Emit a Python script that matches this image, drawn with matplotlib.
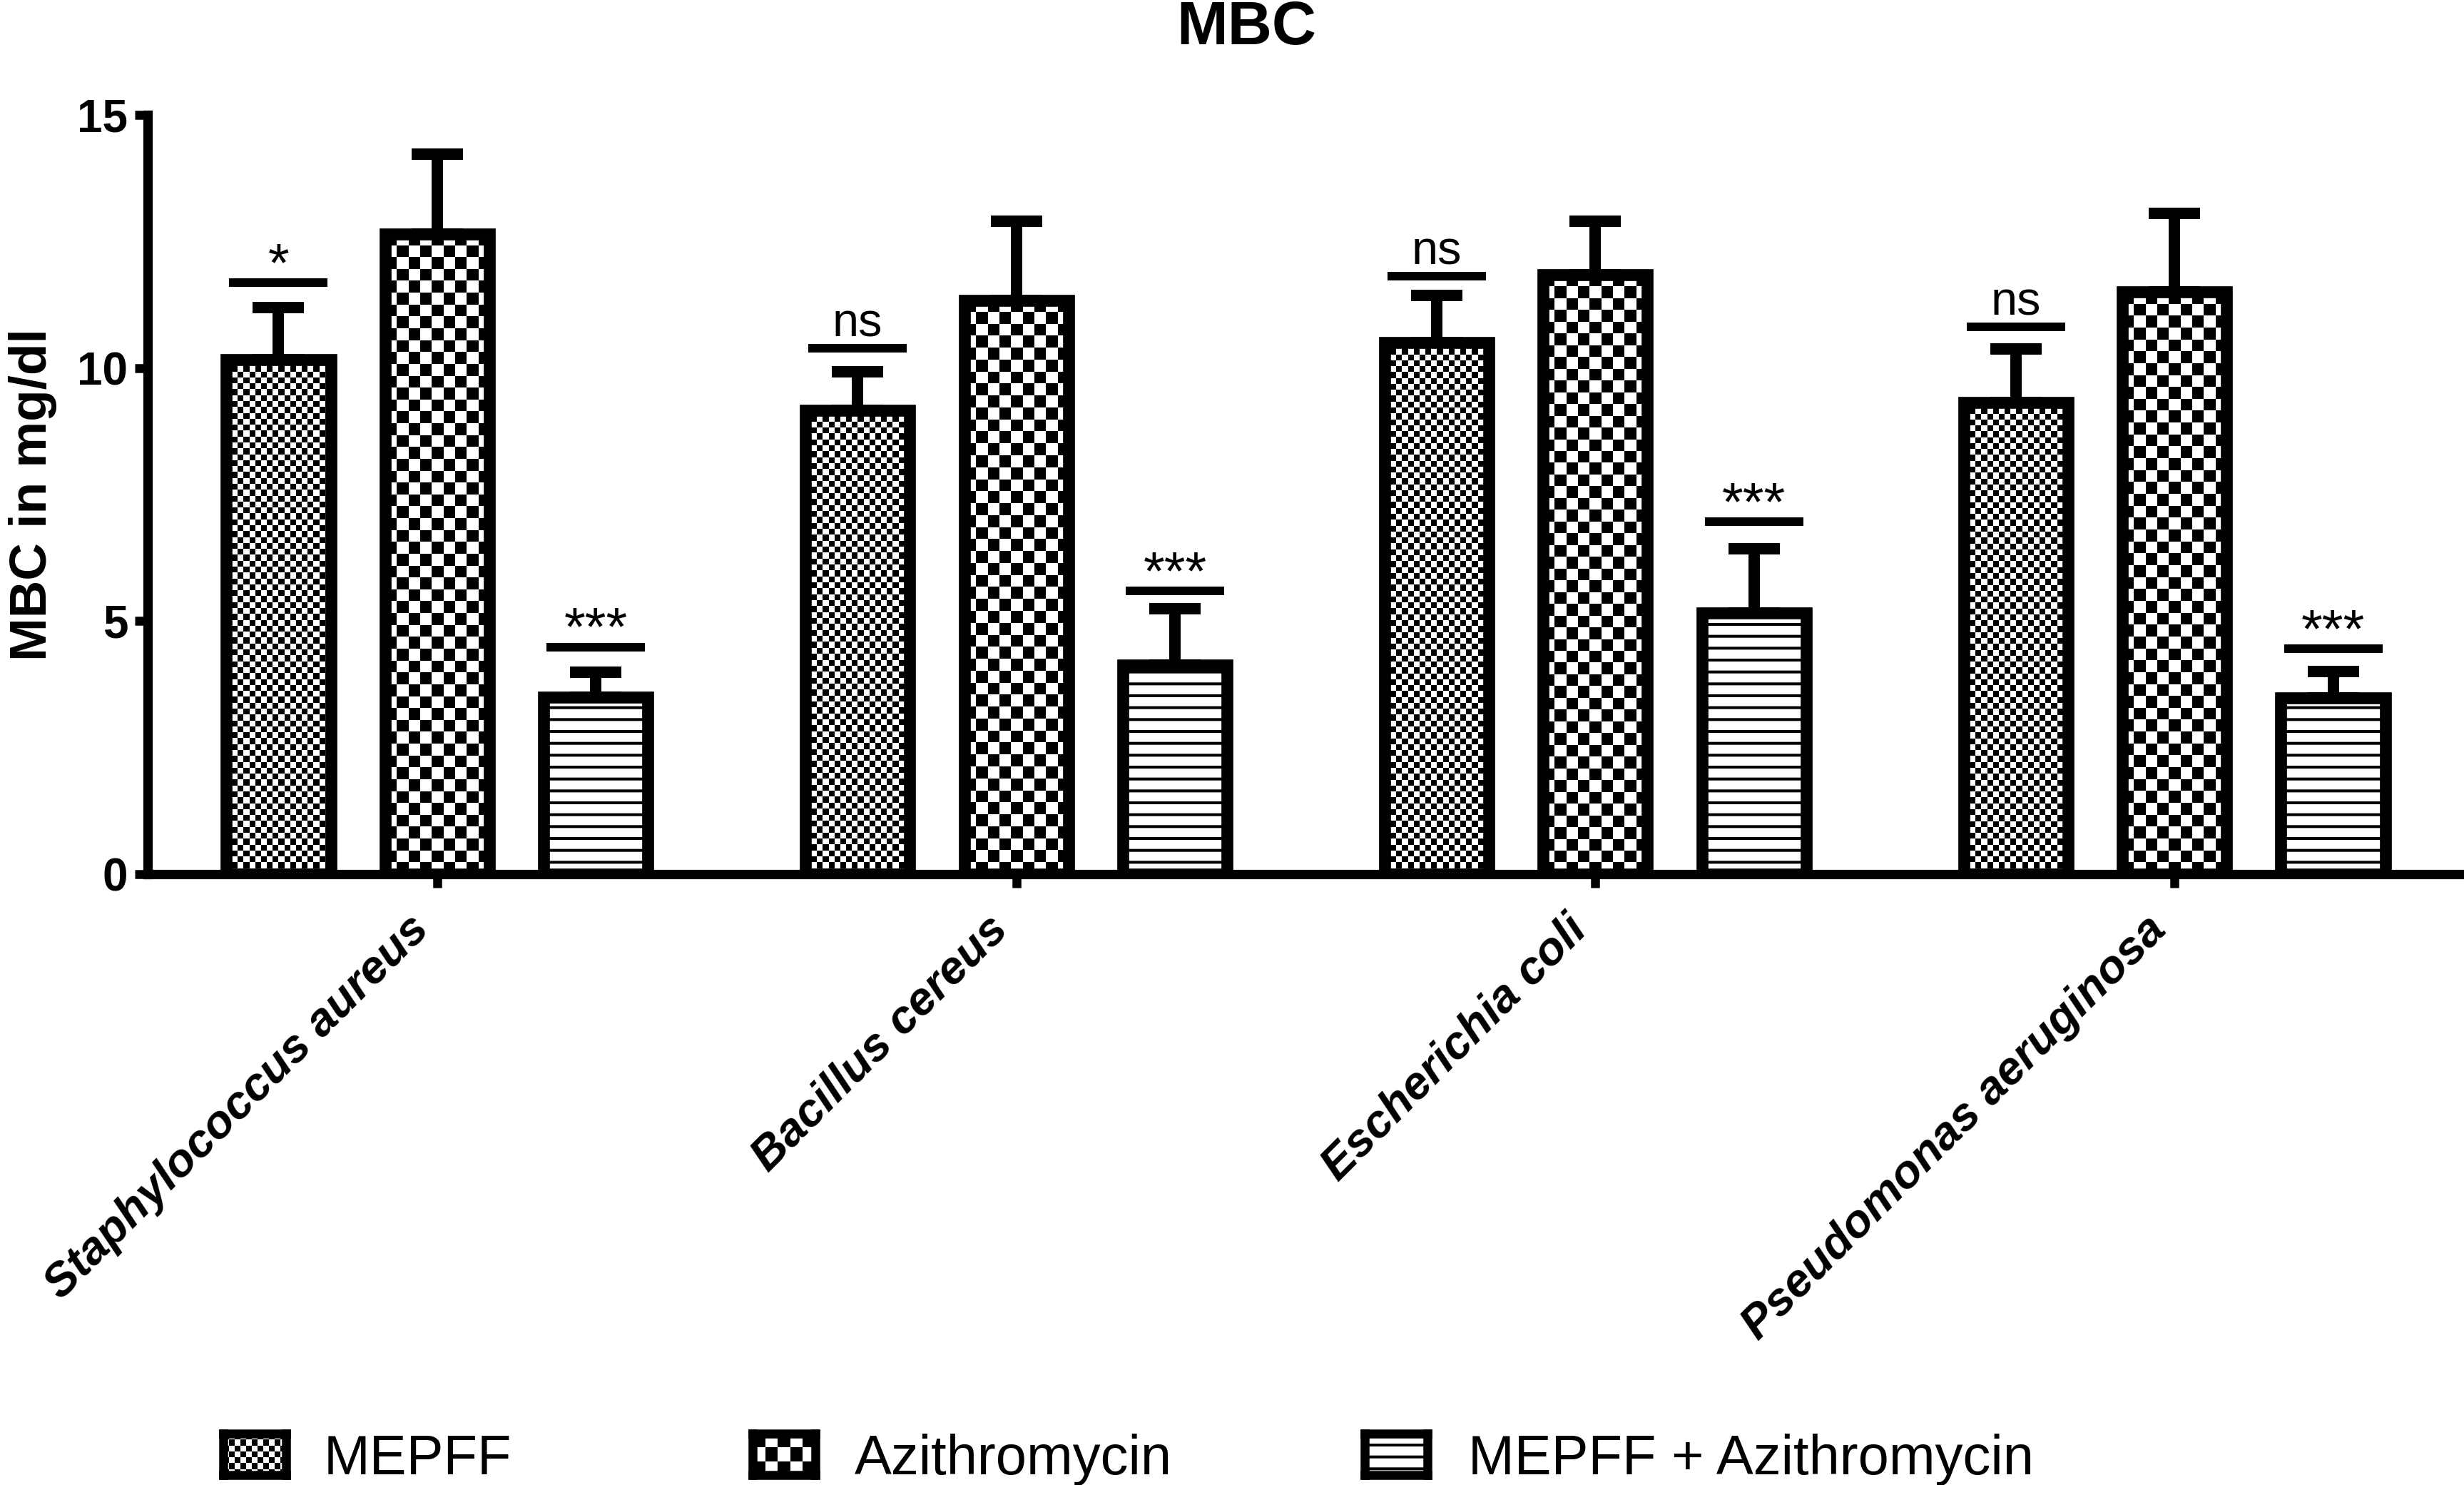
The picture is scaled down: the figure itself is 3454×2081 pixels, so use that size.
import numpy as np
import matplotlib.pyplot as plt

plt.rcParams['font.family'] = ['Liberation Sans', 'DejaVu Sans']
plt.rcParams['hatch.linewidth'] = 2.9

# Данные
organisms = ['Staphylococcus aureus', 'Bacillus cereus', 'Escherichia coli', 'Pseudomonas aeruginosa']
series = ['MEPFF', 'Azithromycin', 'MEPFF + Azithromycin']

mepff = [10.16, 9.17, 10.5, 9.32]
mepff_err = [1.03, 0.76, 0.94, 1.06]
azith = [12.65, 11.34, 11.84, 11.5]
azith_err = [1.58, 1.56, 1.06, 1.55]
combo = [3.49, 4.13, 5.16, 3.48]
combo_err = [0.5, 1.12, 1.27, 0.52]

mepff_sig = ['*', 'ns', 'ns', 'ns']
mepff_sig_y = [11.69, 10.39, 11.81, 10.81]
combo_sig = ['***', '***', '***', '***']
combo_sig_y = [4.49, 5.6, 6.96, 4.45]

W, H = 3454, 2081
fig = plt.figure(figsize=(W / 100, H / 100), dpi=100)
ax = fig.add_axes([207 / W, 1 - 1225 / H, 1 - 207 / W, (1225 - 161) / H])
ax.set_xlim(-0.5, 3.5)
ax.set_ylim(0, 15)

x = np.arange(len(organisms))
width = 0.18
offsets = [-0.274, 0.0, 0.274]


# шахматная заливка столбца, клетка cell пикселей
def checker(target, patch, cell, extent):
    x0, x1, y0, y1 = extent
    (px0, py0), (px1, py1) = target.transData.transform([(x0, y0), (x1, y1)])
    nx = max(1, round(abs(px1 - px0) / cell))
    ny = max(1, round(abs(py1 - py0) / cell))
    grid = np.indices((ny, nx)).sum(axis=0) % 2
    im = target.imshow(grid, extent=extent, origin='upper', cmap='gray', vmin=0, vmax=1,
                       interpolation='nearest', aspect='auto', zorder=2)
    im.set_clip_path(patch)


bars_m = ax.bar(x + offsets[0], mepff, width, facecolor='none', edgecolor='k', linewidth=12, zorder=3)
bars_a = ax.bar(x + offsets[1], azith, width, facecolor='none', edgecolor='k', linewidth=12, zorder=3)
bars_c = ax.bar(x + offsets[2], combo, width, facecolor='white', edgecolor='k', linewidth=12,
                hatch='-', zorder=3)

for b in bars_m:
    checker(ax, b, 8.3, (b.get_x(), b.get_x() + b.get_width(), 0, b.get_height()))
for b in bars_a:
    checker(ax, b, 16.6, (b.get_x(), b.get_x() + b.get_width(), 0, b.get_height()))

for off, vals, errs in zip(offsets, [mepff, azith, combo], [mepff_err, azith_err, combo_err]):
    ax.errorbar(x + off, vals, yerr=[np.zeros(len(vals)), errs], fmt='none', ecolor='k',
                elinewidth=11.5, capsize=26, capthick=11.5, zorder=2.5)

# значимость
for off, labels, ys in [(offsets[0], mepff_sig, mepff_sig_y), (offsets[2], combo_sig, combo_sig_y)]:
    ax.hlines(ys, x + off - 0.085, x + off + 0.085, colors='k', linewidth=8.6, zorder=3)
    for xi, lab, yi in zip(x + off, labels, ys):
        if lab == 'ns':
            dy, fs = 12, 48
        else:
            dy, fs = 2, 55
        ax.annotate(lab, (xi, yi), xytext=(0, dy), textcoords='offset points',
                    ha='center', va='baseline', fontsize=fs)

ax.set_xlim(-0.5, 3.5)
ax.set_ylim(0, 15)
ax.set_yticks([0, 5, 10, 15])
ax.set_xticks(x)
ax.set_xticklabels(organisms, rotation=45, ha='right', fontstyle='italic', fontweight='bold', fontsize=47)
for lbl in ax.get_yticklabels():
    lbl.set_fontweight('bold')
ax.tick_params(axis='x', length=14, width=9, pad=20)
ax.tick_params(axis='y', length=13, width=9, labelsize=46, pad=7)
ax.spines[['top', 'right']].set_visible(False)
ax.spines[['left', 'bottom']].set_linewidth(9.5)
ax.set_ylabel('MBC in mg/dl', fontsize=52.5, fontweight='bold', labelpad=20)

fig.text(0.506, 1 - 62 / H, 'MBC', ha='center', va='baseline', fontsize=62, fontweight='bold')

# легенда
legend_x = [307, 1049, 1907]
text_x = [454, 1198, 2058]
box_w, box_h = 100, 70
for i, name in enumerate(series):
    lx = legend_x[i] + 6
    sw = fig.add_axes([lx / W, (H - 2073 + 6) / H, (box_w - 12) / W, (box_h - 12) / H])
    sw.set_xlim(0, 1)
    sw.set_ylim(0, 1)
    sw.set_xticks([])
    sw.set_yticks([])
    for s in sw.spines.values():
        s.set_linewidth(9)
    if i == 2:
        sw.bar(0.5, 1, 1, facecolor='white', edgecolor='k', linewidth=0, hatch='-')
    else:
        bg = sw.bar(0.5, 1, 1, facecolor='none', linewidth=0)[0]
        checker(sw, bg, 8.3 if i == 0 else 16.6, (0, 1, 0, 1))
    sw.set_xlim(0, 1)
    sw.set_ylim(0, 1)
    fig.text(text_x[i] / W, (H - 2066) / H, name, ha='left', va='baseline', fontsize=56)

fig.savefig('out.png', dpi=100)
